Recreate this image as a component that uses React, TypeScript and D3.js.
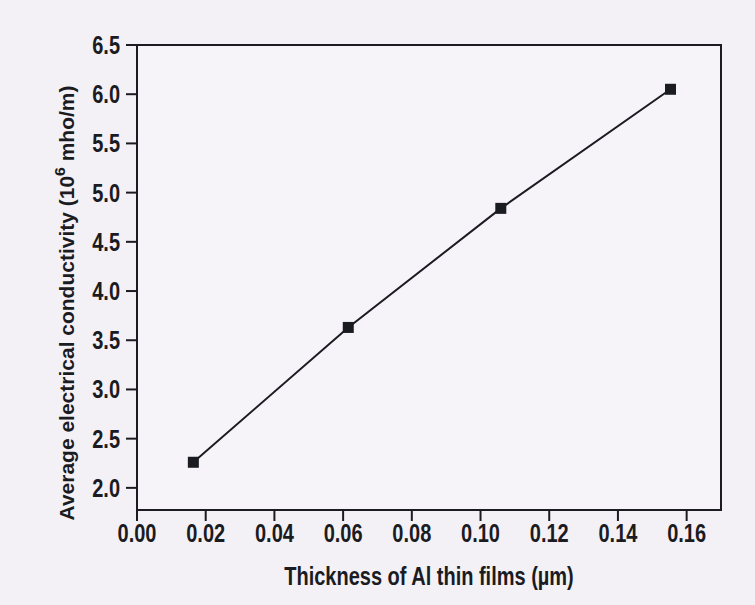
import React from "react";
import * as d3 from "d3";

const thickness = [0.0164, 0.0615, 0.1059, 0.1553];
const conductivity = [2.26, 3.63, 4.84, 6.05];
const xTicks = [0, 0.02, 0.04, 0.06, 0.08, 0.1, 0.12, 0.14, 0.16];
const yTicks = [2.0, 2.5, 3.0, 3.5, 4.0, 4.5, 5.0, 5.5, 6.0, 6.5];
const xTitle = "Thickness of Al thin films (\u00b5m)";
const yTitleMain = "Average electrical conductivity (10";
const yTitleSup = "6";
const yTitleEnd = " mho/m)";

const W = 755;
const H = 605;
const L = 137, R = 721, T = 45, B = 510;
const FONT = "'Liberation Sans', Arial, Helvetica, sans-serif";
const INK = "#1b1b22";
const SY = 1.25;

export default function App() {
  const x = d3.scaleLinear().domain([0, 0.17]).range([L, R]);
  const y = d3.scaleLinear().domain([1.775, 6.5]).range([B, T]);
  const pts = thickness.map((t, i) => [t, conductivity[i]] as [number, number]);
  const line = d3.line<[number, number]>().x(d => x(d[0])).y(d => y(d[1]));
  const ms = 11;
  return (
    <svg width={W} height={H} style={{ position: "absolute", left: 0, top: 0 }} fontFamily={FONT}>
      <rect x={0} y={0} width={W} height={H} fill="#f3f1f6" />
      <rect x={L} y={T} width={R - L} height={B - T} fill="#f6f4f8" stroke={INK} strokeWidth={2} />
      {yTicks.map(v => (
        <g key={"y" + v}>
          <line x1={L - 11} x2={L} y1={y(v)} y2={y(v)} stroke={INK} strokeWidth={2} />
          <g transform={`translate(${L - 17}, ${y(v)}) scale(1, ${SY})`}>
            <text x={0} y={0} dy="0.36em" textAnchor="end" fontSize={20} fontWeight="bold" fill={INK}>
              {d3.format(".1f")(v)}
            </text>
          </g>
        </g>
      ))}
      {xTicks.map(v => (
        <g key={"x" + v}>
          <line x1={x(v)} x2={x(v)} y1={B} y2={B + 11} stroke={INK} strokeWidth={2} />
          <g transform={`translate(${x(v)}, ${B + 32}) scale(1, ${SY})`}>
            <text x={0} y={0} textAnchor="middle" fontSize={20} fontWeight="bold" fill={INK}>
              {d3.format(".2f")(v)}
            </text>
          </g>
        </g>
      ))}
      <path d={line(pts) || ""} fill="none" stroke={INK} strokeWidth={2} />
      {pts.map((p, i) => (
        <rect key={i} x={x(p[0]) - ms / 2} y={y(p[1]) - ms / 2} width={ms} height={ms} fill={INK} />
      ))}
      <g transform={`translate(${(L + R) / 2}, 585) scale(1, ${SY})`}>
        <text x={0} y={0} textAnchor="middle" fontSize={20} fontWeight="bold" fill={INK}>
          {xTitle}
        </text>
      </g>
      <g transform={`translate(74, 303) rotate(-90) scale(1.05, 1)`}>
        <text x={0} y={0} textAnchor="middle" fontSize={20} fontWeight="bold" fill={INK}>
          {yTitleMain}
          <tspan dy={-9} fontSize={15}>{yTitleSup}</tspan>
          <tspan dy={9}>{yTitleEnd}</tspan>
        </text>
      </g>
    </svg>
  );
}
